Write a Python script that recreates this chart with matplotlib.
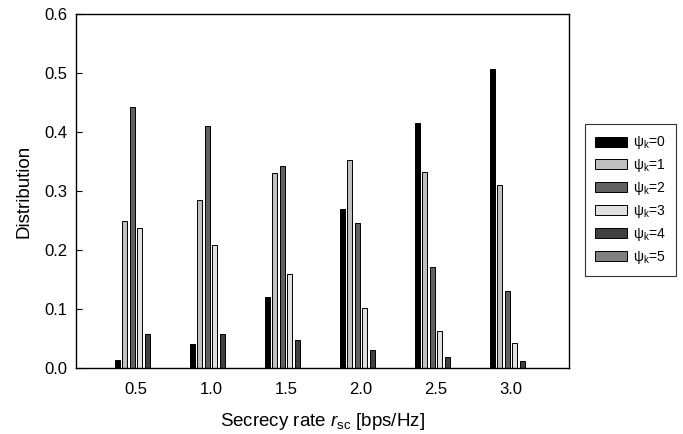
import numpy as np
import matplotlib
matplotlib.use('Agg')
import matplotlib.pyplot as plt

plt.rcParams['font.family'] = ['Liberation Sans', 'DejaVu Sans']
plt.rcParams['mathtext.fontset'] = 'custom'
plt.rcParams['mathtext.rm'] = 'Liberation Sans'
plt.rcParams['mathtext.it'] = 'Liberation Sans:italic'

rates = ['0.5', '1.0', '1.5', '2.0', '2.5', '3.0']
psi0 = [0.014, 0.041, 0.120, 0.269, 0.416, 0.506]
psi1 = [0.250, 0.284, 0.331, 0.352, 0.333, 0.311]
psi2 = [0.442, 0.410, 0.343, 0.246, 0.171, 0.130]
psi3 = [0.237, 0.209, 0.159, 0.101, 0.062, 0.042]
psi4 = [0.058, 0.057, 0.047, 0.031, 0.018, 0.012]
psi5 = [0.0, 0.0, 0.0, 0.0, 0.0, 0.0]
series = [psi0, psi1, psi2, psi3, psi4, psi5]
colors = ['#000000', '#c0c0c0', '#606060', '#e0e0e0', '#404040', '#808080']

fig = plt.figure(figsize=(6.83, 4.34), dpi=100)
ax = fig.add_axes([76/683, 66/434, 493/683, 354/434])

x = np.arange(len(rates))
pitch = 0.1; w = 0.067
for i, (vals, c) in enumerate(zip(series, colors)):
    ax.bar(x + (i - 2.5)*pitch, vals, w, color=c, edgecolor='black', lw=0.7,
           label=r'ψ$_\mathregular{k}$=%d' % i)

ax.set_xlim(-0.8, 5.77)
ax.set_ylim(0, 0.6)
ax.set_xticks(x); ax.set_xticklabels(rates)
ax.set_yticks(np.arange(0, 0.61, 0.1))
ax.set_yticklabels([f'{v:.1f}' for v in np.arange(0, 0.61, 0.1)])
ax.tick_params(axis='y', direction='in', length=4, labelsize=12, pad=6)
ax.tick_params(axis='x', length=0, labelsize=12, pad=10)
for s in ax.spines.values():
    s.set_linewidth(1.0)
ax.set_ylabel('Distribution', fontsize=13.5, labelpad=9)
ax.set_xlabel(r'Secrecy rate $r_{\mathregular{sc}}$ [bps/Hz]', fontsize=13.5, labelpad=10)

leg = fig.legend(loc='upper left', bbox_to_anchor=(585/683, 1 - 124/434),
                 borderaxespad=0, fontsize=10, frameon=True, fancybox=False,
                 edgecolor='black', handlelength=2.3, handleheight=0.72,
                 labelspacing=0.42, borderpad=0.75, handletextpad=0.4)
leg.get_frame().set_linewidth(0.8)

plt.savefig('out.png', dpi=100)
